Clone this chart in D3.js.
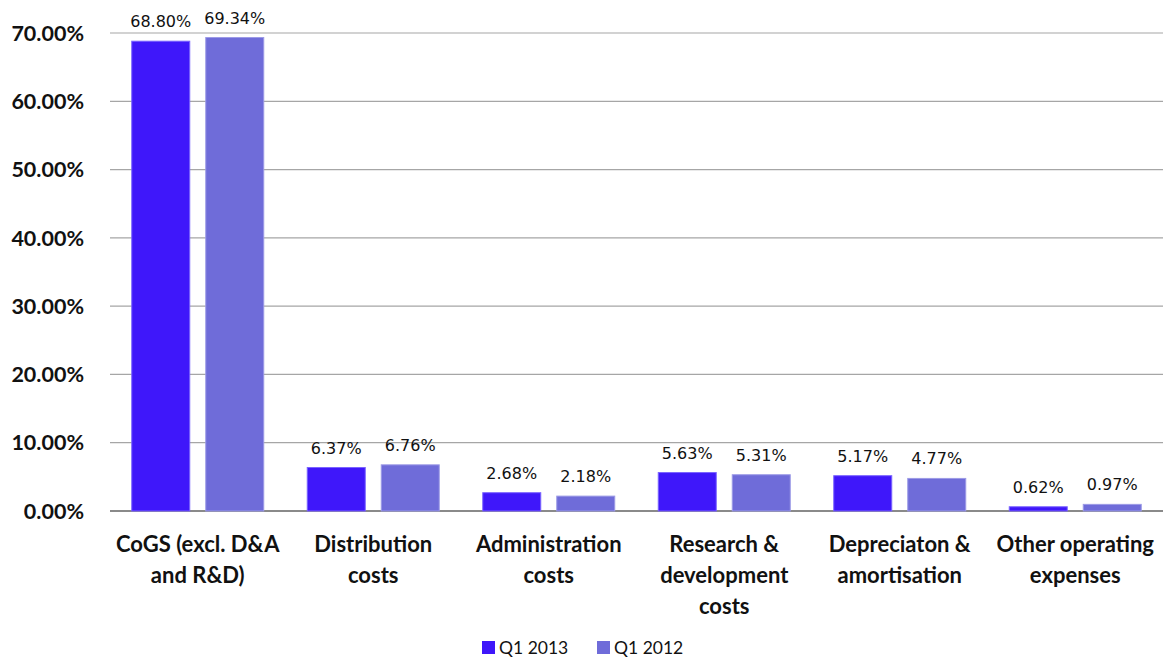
<!DOCTYPE html>
<html>
<head>
<meta charset="utf-8">
<script src="https://cdn.jsdelivr.net/npm/d3@7"></script>
<style>
  body { margin: 0; background: #fff; }
</style>
</head>
<body>
<svg id="chart" width="1165" height="657"></svg>
<script>
const categories = [
  ["CoGS (excl. D&A", "and R&D)"],
  ["Distribution", "costs"],
  ["Administration", "costs"],
  ["Research &", "development", "costs"],
  ["Depreciaton &", "amortisation"],
  ["Other operating", "expenses"]
];
const seriesNames = ["Q1 2013", "Q1 2012"];
const q1_2013 = [68.80, 6.37, 2.68, 5.63, 5.17, 0.62];
const q1_2012 = [69.34, 6.76, 2.18, 5.31, 4.77, 0.97];
const yTicks = [0, 10, 20, 30, 40, 50, 60, 70];
const colors = ["#3f17fa", "#6f6cd9"];

const svg = d3.select("#chart");
const plotLeft = 110, plotRight = 1163, plotTop = 33, plotBottom = 511;

const x = d3.scaleBand().domain(d3.range(categories.length)).range([plotLeft, plotRight]);
const y = d3.scaleLinear().domain([0, 70]).range([plotBottom, plotTop]);

// gridlines
svg.append("g").selectAll("line")
  .data(yTicks)
  .enter().append("line")
  .attr("x1", plotLeft).attr("x2", plotRight)
  .attr("y1", d => y(d)).attr("y2", d => y(d))
  .attr("stroke", d => d === 0 ? "#8a8a8a" : "#a6a6a6")
  .attr("stroke-width", d => d === 0 ? 2 : 1.2);

// y labels
svg.append("g").selectAll("text")
  .data(yTicks)
  .enter().append("text")
  .attr("x", 84)
  .attr("y", d => y(d))
  .attr("dy", "0.36em")
  .attr("text-anchor", "end")
  .style("font-family", "Lato, sans-serif")
  .style("font-weight", "bold")
  .style("font-size", "21.5px")
  .attr("fill", "#111")
  .text(d => d3.format(".2f")(d) + "%");

const barW = 58, gap = 16;
const series = [q1_2013, q1_2012];

series.forEach((vals, s) => {
  const g = svg.append("g");
  const off = (x.bandwidth() - (2 * barW + gap)) / 2 + s * (barW + gap);
  g.selectAll("rect")
    .data(vals)
    .enter().append("rect")
    .attr("x", (d, i) => x(i) + off)
    .attr("width", barW)
    .attr("y", d => y(d))
    .attr("height", d => y(0) - y(d))
    .attr("fill", colors[s])
    .attr("stroke", s === 0 ? "#7a63ff" : "#9c9ae6")
    .attr("stroke-width", 1);
  g.selectAll("text")
    .data(vals)
    .enter().append("text")
    .attr("x", (d, i) => x(i) + off + barW / 2)
    .attr("y", d => y(d) - 14)
    .attr("text-anchor", "middle")
    .style("font-family", "DejaVu Sans, sans-serif")
    .style("font-size", "16px")
    .attr("fill", "#111")
    .text(d => d3.format(".2f")(d) + "%");
});

// category labels
const cat = svg.append("g").selectAll("text")
  .data(categories)
  .enter().append("text")
  .attr("x", (d, i) => x(i) + x.bandwidth() / 2)
  .attr("y", 552)
  .attr("text-anchor", "middle")
  .style("font-family", "Lato, sans-serif")
  .style("font-weight", "bold")
  .style("font-size", "22px")
  .attr("fill", "#111");
cat.each(function(lines, i) {
  d3.select(this).selectAll("tspan")
    .data(lines)
    .enter().append("tspan")
    .attr("x", x(i) + x.bandwidth() / 2)
    .attr("y", (l, k) => 552 + k * 31)
    .text(l => l);
});

// legend
const legendX = [482, 597];
const legend = svg.append("g").selectAll("g")
  .data(seriesNames)
  .enter().append("g")
  .attr("transform", (d, i) => `translate(${legendX[i]},641)`);
legend.append("rect")
  .attr("width", 13).attr("height", 13)
  .attr("fill", (d, i) => colors[i]);
legend.append("text")
  .attr("x", 17).attr("y", 12.5)
  .style("font-family", "Lato, sans-serif")
  .style("font-size", "17.5px")
  .attr("fill", "#111")
  .text(d => d);
</script>
</body>
</html>
